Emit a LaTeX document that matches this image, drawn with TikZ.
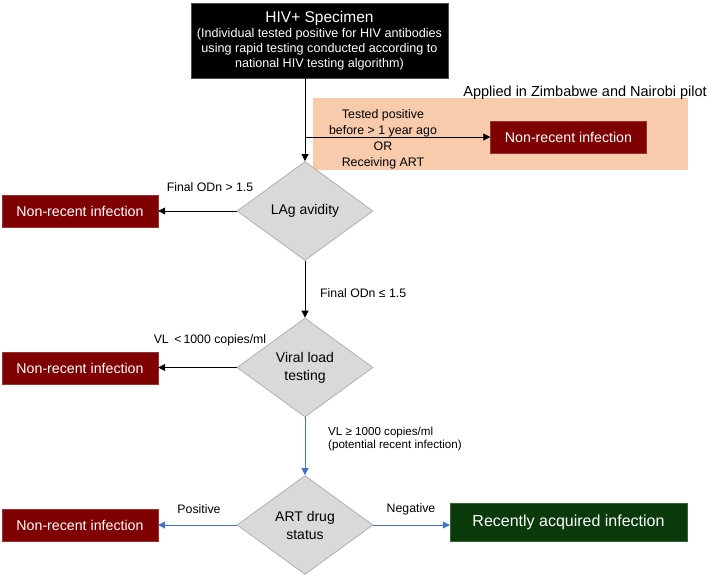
\documentclass[tikz,border=0pt]{standalone}
\usepackage{fontspec}
\setmainfont{Liberation Sans}
\usetikzlibrary{shapes.geometric,arrows.meta}
\definecolor{maroonbox}{HTML}{7F0000}
\definecolor{greenbox}{HTML}{0A3A0A}
\definecolor{peach}{HTML}{F8CBAD}
\definecolor{diafill}{HTML}{D9D9D9}
\definecolor{diadraw}{HTML}{B0B0B0}
\definecolor{flowblue}{HTML}{4472C4}
\tikzset{
  nrbox/.style={rectangle, fill=maroonbox, draw=maroonbox!80!white, text=white, minimum width=156pt, minimum height=32pt, inner sep=0pt, font=\fontsize{14.2}{16}\selectfont},
  decision/.style={diamond, fill=diafill, draw=diadraw, line width=0.8pt, minimum width=136pt, minimum height=99pt, inner sep=0pt, aspect=1.39, align=center, font=\fontsize{14}{18}\selectfont},
  arr/.style={draw=black, line width=0.8pt, -{Triangle[length=7pt,width=7pt]}},
  barr/.style={draw=flowblue, line width=0.8pt, -{Triangle[length=7pt,width=7pt]}},
  lbl/.style={inner sep=0pt, font=\fontsize{12.3}{13}\selectfont}
}
\begin{document}
\begin{tikzpicture}[x=1pt,y=-1pt]
\useasboundingbox (0,0) rectangle (709,578);
% peach region
\node[rectangle, fill=peach, minimum width=375pt, minimum height=72pt, inner sep=0pt] (peachbg) at (500.5,134) {};
\node[inner sep=0pt, anchor=east, font=\fontsize{14.5}{16}\selectfont] (applied) at (707,93) {Applied in Zimbabwe and Nairobi pilot};
% top box
\node[rectangle, fill=black, draw=black!70, text=white, minimum width=257pt, minimum height=75pt, inner sep=0pt, align=center, font=\fontsize{12.6}{15}\selectfont] (spec) at (319.5,40.5)
  {{\fontsize{15.5}{19}\selectfont HIV+ Specimen}\\(Individual tested positive for HIV antibodies\\using rapid testing conducted according to\\national HIV testing algorithm)};
% peach text
\node[inner sep=0pt, align=center, font=\fontsize{12.4}{16}\selectfont] (ptext) at (383,139) {Tested positive\\before > 1 year ago\\OR\\Receiving ART};
\node[nrbox] (nr0) at (568.5,137) {Non-recent infection};
% decisions
\node[decision] (lag) at (305,211) {LAg avidity};
\node[decision] (vl) at (305,367.5) {Viral load\\testing};
\node[decision] (art) at (305,525) {ART drug\\status};
% outcome boxes
\node[nrbox] (nr1) at (80,211) {Non-recent infection};
\node[nrbox] (nr2) at (80,368) {Non-recent infection};
\node[nrbox] (nr3) at (80,525) {Non-recent infection};
\node[rectangle, fill=greenbox, draw=greenbox!80!white, text=white, minimum width=237pt, minimum height=38pt, inner sep=0pt, font=\fontsize{16}{18}\selectfont] (rec) at (568.5,522) {Recently acquired infection};
% connectors
\draw[line width=0.8pt] (lag.north |- spec.south) -- (lag.north |- nr0.west);
\draw[arr] (lag.north |- nr0.west) -- (lag.north);
\draw[arr] (lag.north |- nr0.west) -- (nr0.west);
\draw[arr] (lag.west) -- (nr1.east);
\draw[arr] (lag.south) -- (vl.north);
\draw[arr] (vl.west) -- (vl.west -| nr2.east);
\draw[barr] (vl.south) -- (art.north);
\draw[barr] (art.west) -- (art.west -| nr3.east);
\draw[barr] (art.east) -- (art.east -| rec.west);
% labels
\node[lbl] (l1) at (210,187) {Final ODn > 1.5};
\node[lbl, anchor=west] (l2) at (320,293) {Final ODn ≤ 1.5};
\node[lbl] (l3) at (210,340) {VL \,<\,1000 copies/ml};
\node[lbl, anchor=west, align=left, font=\fontsize{11.6}{12.5}\selectfont] (l4) at (328,439) {VL ≥ 1000 copies/ml\\(potential recent infection)};
\node[lbl] (l5) at (199,509) {Positive};
\node[lbl] (l6) at (411,509) {Negative};
\end{tikzpicture}
\end{document}
